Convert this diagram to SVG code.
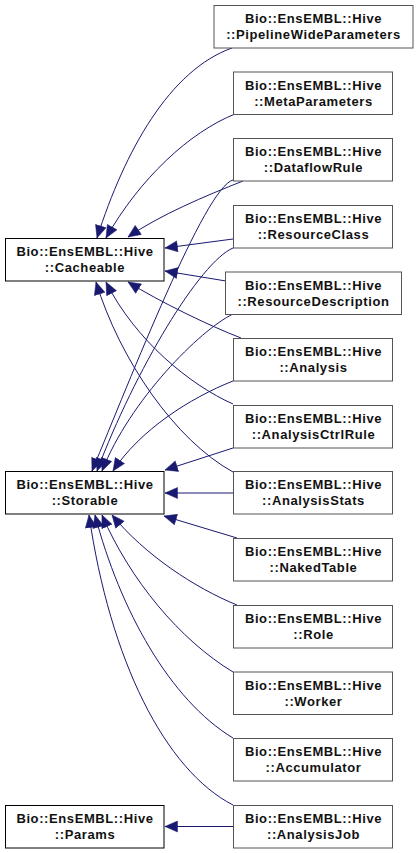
<svg xmlns="http://www.w3.org/2000/svg" width="419" height="853" viewBox="0 0 419 853">
<defs>
<style>
.box{fill:#fff;stroke:#000;stroke-width:1}
.rbox{fill:#fff;stroke:#555;stroke-width:1}
text{font-family:"Liberation Sans",Arial,sans-serif;font-size:13px;font-weight:bold;fill:#111;text-anchor:middle;letter-spacing:0.6px}
.e{fill:none;stroke:#191970;stroke-width:1;marker-end:url(#ah)}
</style>
<marker id="ah" markerUnits="userSpaceOnUse" markerWidth="14" markerHeight="12" viewBox="0 0 14 12" refX="13" refY="6" orient="auto">
<path d="M0.5,0.5 L13,6 L0.5,11.5 z" fill="#191970" stroke="#191970" stroke-width="0.5"/>
</marker>
</defs>
<rect width="419" height="853" fill="#fff"/>
<g id="connectors">
<path class="e" d="M232,48 C170,70 125,150 97,238"/>
<path class="e" d="M235,114 C190,132 140,178 106,238"/>
<path class="e" d="M243,181 C205,196 160,215 128,237"/>
<path class="e" d="M233,239 L165,248"/>
<path class="e" d="M226,281 L165,271"/>
<path class="e" d="M241,338 C210,326 160,302 128,282"/>
<path class="e" d="M233,404 C190,385 135,340 106,282"/>
<path class="e" d="M233,472 C175,440 120,360 96,282"/>
<path class="e" d="M233,180 C205,187 130,380 92,471"/>
<path class="e" d="M233,248 C200,262 135,370 97,471"/>
<path class="e" d="M233,314 C200,330 130,400 102,471"/>
<path class="e" d="M233,381 C190,398 140,430 113,471"/>
<path class="e" d="M233,448 L165,470"/>
<path class="e" d="M233,493 L165,493"/>
<path class="e" d="M237,538 L164,516"/>
<path class="e" d="M237,605 C195,588 145,555 112,515"/>
<path class="e" d="M233,672 C180,640 130,580 102,515"/>
<path class="e" d="M233,738 C170,700 120,610 95,515"/>
<path class="e" d="M233,805 C165,770 110,660 89,515"/>
<path class="e" d="M233,826.5 L165,826.5"/>
</g>
<g id="Cacheable"><rect class="box" x="5.5" y="238.5" width="158.5" height="42.5"/><text x="85" y="256">Bio::EnsEMBL::Hive</text><text x="85" y="272">::Cacheable</text></g>
<g id="Storable"><rect class="box" x="5.5" y="471.5" width="158.5" height="42.5"/><text x="85" y="489">Bio::EnsEMBL::Hive</text><text x="85" y="505">::Storable</text></g>
<g id="Params"><rect class="box" x="5.5" y="805.5" width="158.5" height="42.5"/><text x="85" y="823">Bio::EnsEMBL::Hive</text><text x="85" y="839">::Params</text></g>
<g id="PipelineWideParameters"><rect class="rbox" x="214" y="5.5" width="199" height="42.5"/><text x="313.5" y="23">Bio::EnsEMBL::Hive</text><text x="313.5" y="39">::PipelineWideParameters</text></g>
<g id="MetaParameters"><rect class="rbox" x="233.5" y="72" width="159" height="42.5"/><text x="313.5" y="89.5">Bio::EnsEMBL::Hive</text><text x="313.5" y="105.5">::MetaParameters</text></g>
<g id="DataflowRule"><rect class="rbox" x="233.5" y="138.5" width="159" height="42.5"/><text x="313.5" y="156">Bio::EnsEMBL::Hive</text><text x="313.5" y="172">::DataflowRule</text></g>
<g id="ResourceClass"><rect class="rbox" x="233.5" y="205.5" width="159" height="42.5"/><text x="313.5" y="223">Bio::EnsEMBL::Hive</text><text x="313.5" y="239">::ResourceClass</text></g>
<g id="ResourceDescription"><rect class="rbox" x="225.5" y="272" width="176" height="42.5"/><text x="313.5" y="289.5">Bio::EnsEMBL::Hive</text><text x="313.5" y="305.5">::ResourceDescription</text></g>
<g id="Analysis"><rect class="rbox" x="233.5" y="338.5" width="159" height="42.5"/><text x="313.5" y="356">Bio::EnsEMBL::Hive</text><text x="313.5" y="372">::Analysis</text></g>
<g id="AnalysisCtrlRule"><rect class="rbox" x="233.5" y="405.5" width="159" height="42.5"/><text x="313.5" y="423">Bio::EnsEMBL::Hive</text><text x="313.5" y="439">::AnalysisCtrlRule</text></g>
<g id="AnalysisStats"><rect class="rbox" x="233.5" y="471.5" width="159" height="42.5"/><text x="313.5" y="489">Bio::EnsEMBL::Hive</text><text x="313.5" y="505">::AnalysisStats</text></g>
<g id="NakedTable"><rect class="rbox" x="233.5" y="538.5" width="159" height="42.5"/><text x="313.5" y="556">Bio::EnsEMBL::Hive</text><text x="313.5" y="572">::NakedTable</text></g>
<g id="Role"><rect class="rbox" x="233.5" y="605.5" width="159" height="42.5"/><text x="313.5" y="623">Bio::EnsEMBL::Hive</text><text x="313.5" y="639">::Role</text></g>
<g id="Worker"><rect class="rbox" x="233.5" y="672" width="159" height="42.5"/><text x="313.5" y="689.5">Bio::EnsEMBL::Hive</text><text x="313.5" y="705.5">::Worker</text></g>
<g id="Accumulator"><rect class="rbox" x="233.5" y="738.5" width="159" height="42.5"/><text x="313.5" y="756">Bio::EnsEMBL::Hive</text><text x="313.5" y="772">::Accumulator</text></g>
<g id="AnalysisJob"><rect class="rbox" x="233.5" y="805.5" width="159" height="42.5"/><text x="313.5" y="823">Bio::EnsEMBL::Hive</text><text x="313.5" y="839">::AnalysisJob</text></g>
</svg>
